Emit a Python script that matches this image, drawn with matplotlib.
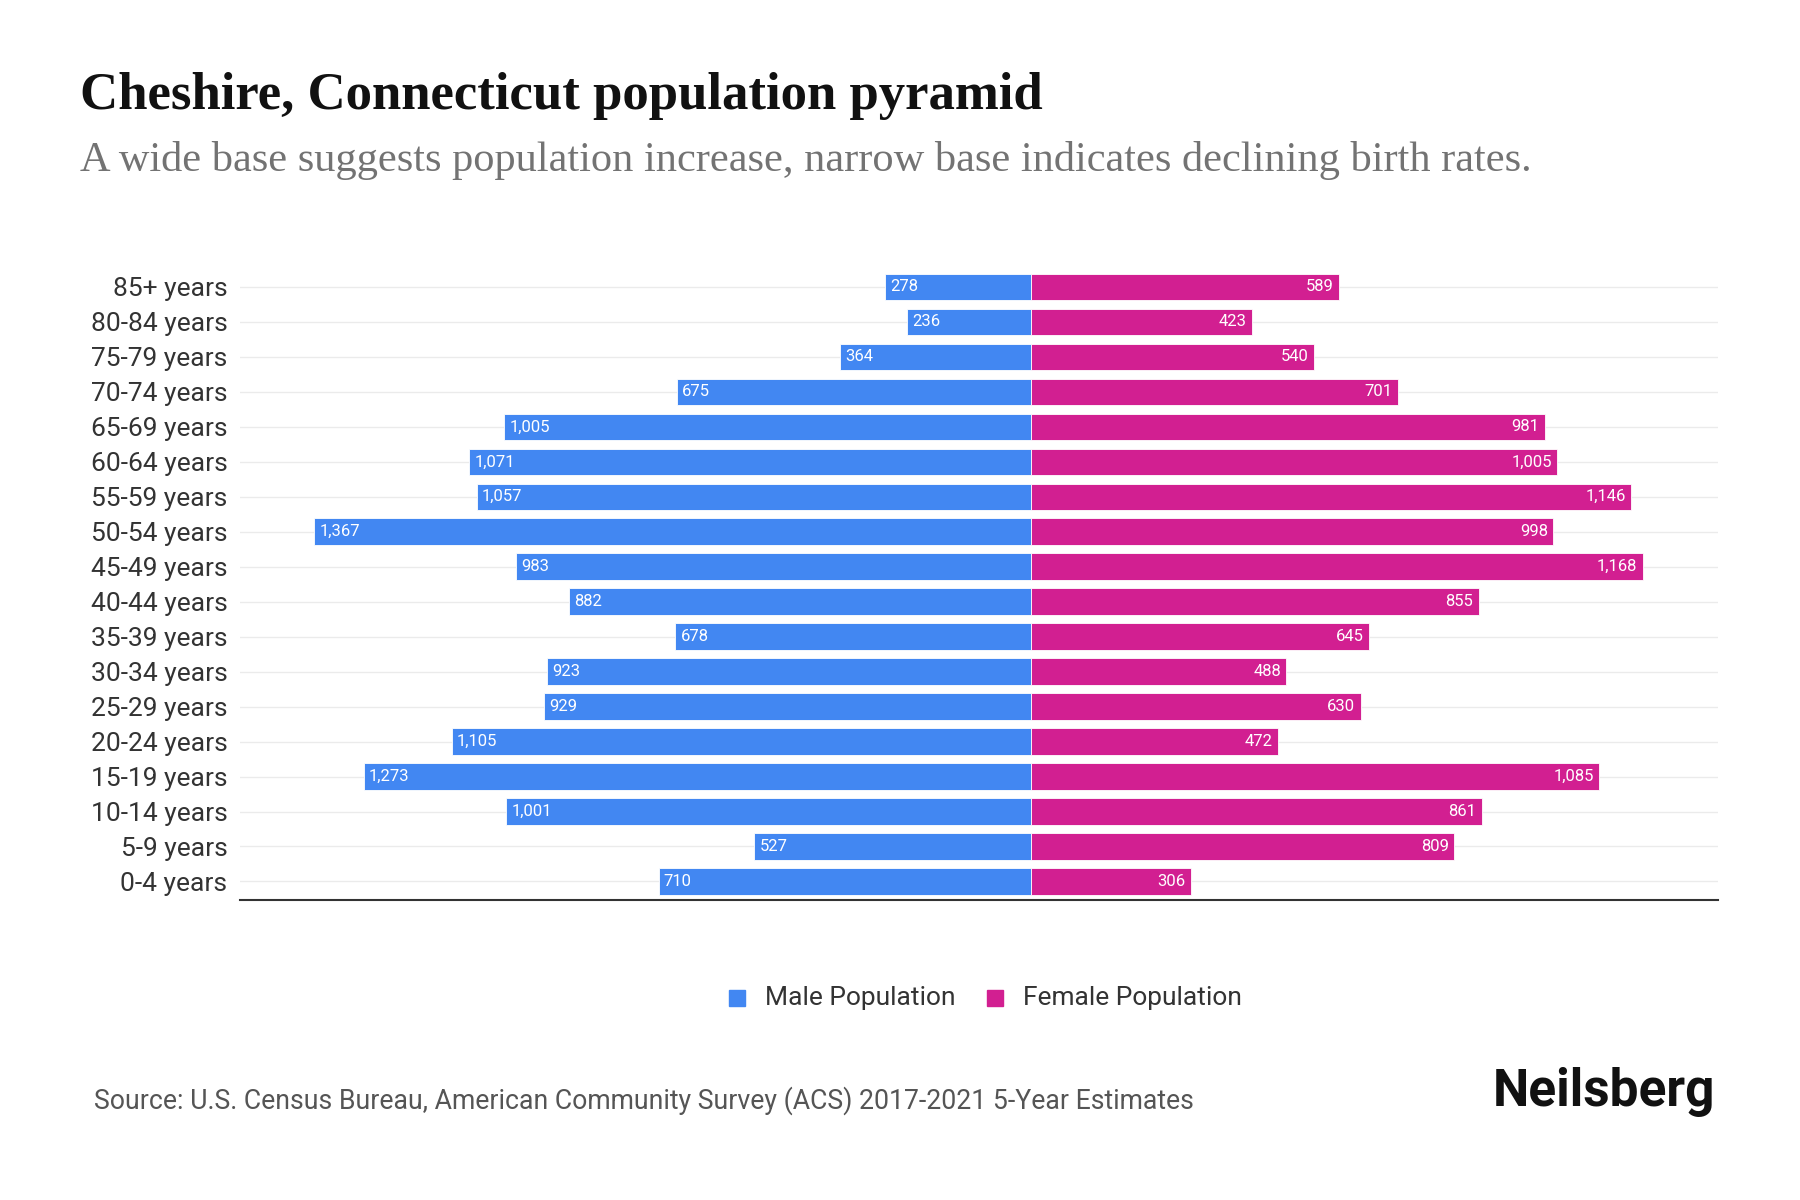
import matplotlib.pyplot as plt
from matplotlib.patches import Rectangle

# data
age_groups = ['0-4 years', '5-9 years', '10-14 years', '15-19 years', '20-24 years',
              '25-29 years', '30-34 years', '35-39 years', '40-44 years', '45-49 years',
              '50-54 years', '55-59 years', '60-64 years', '65-69 years', '70-74 years',
              '75-79 years', '80-84 years', '85+ years']
male = [710, 527, 1001, 1273, 1105, 929, 923, 678, 882, 983,
        1367, 1057, 1071, 1005, 675, 364, 236, 278]
female = [306, 809, 861, 1085, 472, 630, 488, 645, 855, 1168,
          998, 1146, 1005, 981, 701, 540, 423, 589]

male_color = '#4287f2'
female_color = '#d21f91'


def main():
    fig = plt.figure(figsize=(18, 12), dpi=100)
    ax = fig.add_axes([240 / 1800, 1 - 900 / 1200, (1718 - 240) / 1800, (900 - 266) / 1200])

    y = list(range(len(age_groups)))
    ax.barh(y, [-m for m in male], height=0.76, color=male_color, edgecolor='white', linewidth=0.6)
    ax.barh(y, female, height=0.76, color=female_color, edgecolor='white', linewidth=0.6)

    for i in y:
        ax.text(-male[i] + 10, i, f'{male[i]:,}', color='white', fontsize=12,
                family='Roboto', va='center', ha='left')
        ax.text(female[i] - 10, i, f'{female[i]:,}', color='white', fontsize=12,
                family='Roboto', va='center', ha='right')

    ax.set_xlim(-1509, 1312)
    ax.set_ylim(-0.53, 17.6)
    ax.set_yticks(y)
    ax.set_yticklabels(age_groups, family='Roboto', fontsize=19, color='#333333')
    ax.set_xticks([])
    ax.tick_params(axis='y', length=0, pad=9)
    ax.grid(axis='y', color='#ebebeb', linewidth=1)
    ax.set_axisbelow(True)
    for s in ['top', 'right', 'left']:
        ax.spines[s].set_visible(False)
    ax.spines['bottom'].set_color('#333333')
    ax.spines['bottom'].set_linewidth(1.5)

    # title and subtitle
    fig.text(80 / 1800, 1 - 96 / 1200, 'Cheshire, Connecticut population pyramid',
             family='Liberation Serif', weight='bold', fontsize=38, va='center', color='#111111')
    fig.text(80 / 1800, 1 - 161 / 1200,
             'A wide base suggests population increase, narrow base indicates declining birth rates.',
             family='Liberation Serif', fontsize=30.5, va='center', color='#737373')

    # legend
    leg_y = 1 - 998 / 1200
    fig.patches.append(Rectangle((729 / 1800, leg_y - 8 / 1200), 16 / 1800, 16 / 1200,
                                 transform=fig.transFigure, color=male_color))
    fig.text(765 / 1800, leg_y, 'Male Population', family='Roboto',
             fontsize=19, va='center', color='#333333')
    fig.patches.append(Rectangle((987 / 1800, leg_y - 8 / 1200), 16 / 1800, 16 / 1200,
                                 transform=fig.transFigure, color=female_color))
    fig.text(1023 / 1800, leg_y, 'Female Population', family='Roboto',
             fontsize=19, va='center', color='#333333')

    # footer
    fig.text(94 / 1800, 1 - 1101 / 1200,
             'Source: U.S. Census Bureau, American Community Survey (ACS) 2017-2021 5-Year Estimates',
             family='Roboto', fontsize=19.2, va='center', color='#555555')
    fig.text(1715 / 1800, 1 - 1092 / 1200, 'Neilsberg', family='Roboto', weight='bold',
             fontsize=37, va='center', ha='right', color='#111111')

    fig.savefig('out.png', dpi=100, facecolor='white')


if __name__ == '__main__':
    main()
